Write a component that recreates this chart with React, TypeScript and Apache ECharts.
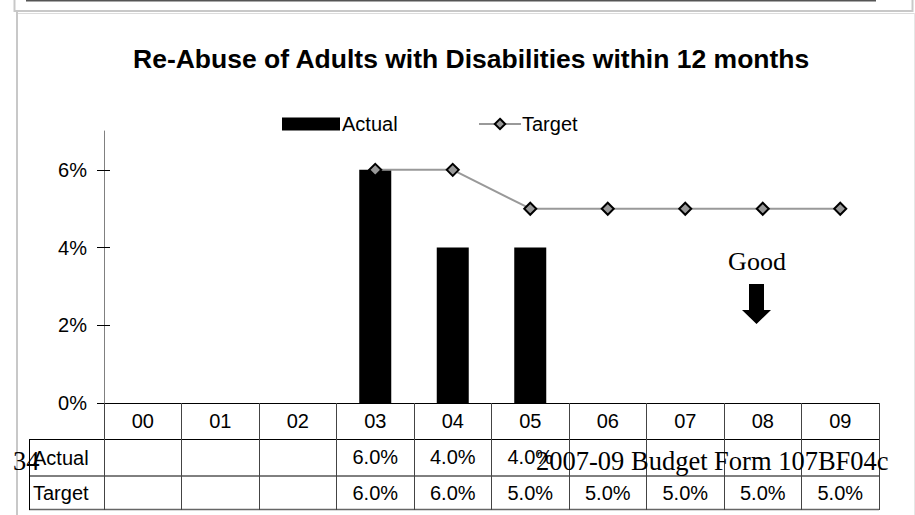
import React, { useEffect, useRef } from "react";
import * as echarts from "echarts";

const categories = ["00", "01", "02", "03", "04", "05", "06", "07", "08", "09"];
const actualValues: (number | null)[] = [null, null, null, 6, 4, 4, null, null, null, null];
const targetValues: (number | null)[] = [null, null, null, 6, 6, 5, 5, 5, 5, 5];
const yTicks = [0, 2, 4, 6];
const titleText = "Re-Abuse of Adults with Disabilities within 12 months";
const footerPage = "34";
const footerText = "2007-09 Budget Form 107BF04c";
const noteText = "Good";

const fmt = (v: number | null) => (v == null ? "" : v.toFixed(1) + "%");
const SANS = "'Liberation Sans', Arial, sans-serif";
const SERIF = "'Liberation Serif', 'Times New Roman', serif";

export default function App() {
  const ref = useRef<HTMLDivElement>(null);
  useEffect(() => {
    if (!ref.current) return;
    const chart = echarts.init(ref.current, null, { renderer: "svg" });
    const actualLabels = actualValues.map(fmt);
    const targetLabels = targetValues.map(fmt);
    const tableAxisBase = {
      type: "category",
      data: categories,
      position: "bottom",
      axisLine: { show: false },
      axisTick: { show: false },
      splitLine: { show: false },
    };
    chart.setOption({
      animation: false,
      backgroundColor: "#ffffff",
      title: {
        text: titleText,
        left: 128,
        top: 40,
        textStyle: { fontFamily: SANS, fontSize: 26.5, fontWeight: "bold", color: "#000" },
      },
      legend: [
        {
          data: [{ name: "Actual", icon: "rect" }],
          left: 282,
          top: 114,
          padding: 0,
          itemWidth: 58,
          itemHeight: 13,
          itemGap: 4,
          textStyle: { fontFamily: SANS, fontSize: 20, color: "#000", padding: [0, 0, 0, -3] },
        },
        {
          data: ["Target"],
          left: 478,
          top: 114,
          padding: 0,
          itemWidth: 42,
          itemHeight: 13,
          textStyle: { fontFamily: SANS, fontSize: 20, color: "#000", padding: [0, 0, 0, -4] },
        },
      ],
      grid: { left: 104, right: 36, top: 131, bottom: 112, containLabel: false },
      xAxis: [
        {
          type: "category",
          data: categories,
          position: "bottom",
          axisLine: { show: true, lineStyle: { color: "#000", width: 1 } },
          axisTick: { show: true, length: 107, lineStyle: { color: "#444", width: 1 } },
          axisLabel: { fontFamily: SANS, fontSize: 20, color: "#000", margin: 8 },
          splitLine: { show: false },
        },
        {
          ...tableAxisBase,
          offset: 36,
          axisLabel: {
            fontFamily: SANS,
            fontSize: 20,
            color: "#000",
            margin: 8,
            formatter: (_v: string, i: number) => actualLabels[i],
          },
        },
        {
          ...tableAxisBase,
          offset: 73,
          axisLabel: {
            fontFamily: SANS,
            fontSize: 20,
            color: "#000",
            margin: 7,
            formatter: (_v: string, i: number) => targetLabels[i],
          },
        },
      ],
      yAxis: [
        {
          type: "value",
          min: 0,
          max: 7,
          axisLine: { show: true, lineStyle: { color: "#808080", width: 1 } },
          axisTick: { show: true, length: 7, customValues: yTicks, lineStyle: { color: "#000" } },
          axisLabel: {
            fontFamily: SANS,
            fontSize: 20,
            color: "#000",
            margin: 17,
            customValues: yTicks,
            formatter: (v: number) => v + "%",
          },
          splitLine: { show: false },
        },
        {
          type: "value",
          min: 0,
          max: 7,
          position: "left",
          axisLine: { show: false },
          axisTick: { show: true, inside: true, length: 6, customValues: yTicks, lineStyle: { color: "#000" } },
          axisLabel: { show: false },
          splitLine: { show: false },
        },
      ],
      series: [
        {
          name: "Actual",
          type: "bar",
          data: actualValues,
          barWidth: 32,
          itemStyle: { color: "#000" },
        },
        {
          name: "Target",
          type: "line",
          data: targetValues,
          symbol: "diamond",
          symbolSize: 12,
          lineStyle: { color: "#999999", width: 2 },
          itemStyle: { color: "#999999", borderColor: "#000", borderWidth: 2 },
          z: 5,
        },
      ],
      graphic: [
        // frames
        { type: "line", shape: { x1: 14.5, y1: 0, x2: 14.5, y2: 12 }, style: { stroke: "#c8c8c8", lineWidth: 2 } },
        { type: "line", shape: { x1: 912.5, y1: 0, x2: 912.5, y2: 12 }, style: { stroke: "#c8c8c8", lineWidth: 2 } },
        { type: "line", shape: { x1: 14, y1: 11, x2: 913, y2: 11 }, style: { stroke: "#c8c8c8", lineWidth: 2 } },
        { type: "line", shape: { x1: 26, y1: 0.5, x2: 876, y2: 0.5 }, style: { stroke: "#555", lineWidth: 2 } },
        { type: "line", shape: { x1: 16, y1: 13.5, x2: 915, y2: 13.5 }, style: { stroke: "#dcdcdc", lineWidth: 1 } },
        { type: "line", shape: { x1: 17, y1: 12, x2: 17, y2: 515 }, style: { stroke: "#c8c8c8", lineWidth: 2 } },
        { type: "line", shape: { x1: 914.5, y1: 13, x2: 914.5, y2: 515 }, style: { stroke: "#e6e6e6", lineWidth: 1 } },
        // table lines
        { type: "line", shape: { x1: 29, y1: 439.5, x2: 879, y2: 439.5 }, style: { stroke: "#000", lineWidth: 1 } },
        { type: "line", shape: { x1: 29, y1: 476, x2: 879, y2: 476 }, style: { stroke: "#000", lineWidth: 1 } },
        { type: "line", shape: { x1: 29, y1: 509.5, x2: 879, y2: 509.5 }, style: { stroke: "#666", lineWidth: 1.5 } },
        { type: "line", shape: { x1: 29.5, y1: 439, x2: 29.5, y2: 510 }, style: { stroke: "#000", lineWidth: 1 } },
        {
          type: "text",
          x: 33,
          y: 458,
          style: { text: "Actual", font: `20px ${SANS}`, fill: "#000", verticalAlign: "middle", align: "left" },
        },
        {
          type: "text",
          x: 33,
          y: 493,
          style: { text: "Target", font: `20px ${SANS}`, fill: "#000", verticalAlign: "middle", align: "left" },
        },
        // footer
        {
          type: "text",
          x: 13,
          y: 461,
          z: 10,
          style: { text: footerPage, font: `26.5px ${SERIF}`, fill: "#000", verticalAlign: "middle", align: "left" },
        },
        {
          type: "text",
          x: 536,
          y: 461,
          z: 10,
          style: { text: footerText, font: `26.5px ${SERIF}`, fill: "#000", verticalAlign: "middle", align: "left" },
        },
        // Good + arrow
        {
          type: "text",
          x: 757,
          y: 261,
          style: { text: noteText, font: `26px ${SERIF}`, fill: "#000", verticalAlign: "middle", align: "center" },
        },
        {
          type: "polygon",
          shape: {
            points: [
              [749, 284],
              [764, 284],
              [764, 310],
              [771, 310],
              [756.5, 324],
              [742, 310],
              [749, 310],
            ],
          },
          style: { fill: "#000" },
        },
      ],
    });
    return () => chart.dispose();
  }, []);
  return (
    <div
      ref={ref}
      style={{ position: "fixed", left: 0, top: 0, width: 915, height: 515, background: "#fff" }}
    />
  );
}
